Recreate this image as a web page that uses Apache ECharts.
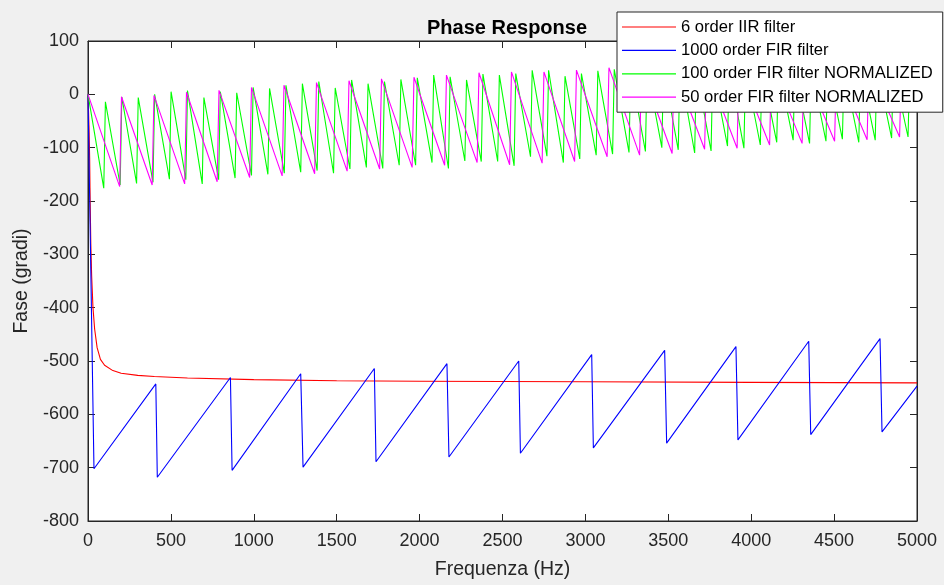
<!DOCTYPE html>
<html>
<head>
<meta charset="utf-8">
<script src="https://cdn.jsdelivr.net/npm/echarts@6/dist/echarts.min.js"></script>
<style>
html,body{margin:0;padding:0;background:#f0f0f0;}
#chart{width:944px;height:585px;}
</style>
</head>
<body>
<div id="chart"></div>
<script>
// ---- data ----
const xTicks = [0,500,1000,1500,2000,2500,3000,3500,4000,4500,5000];
const yTicks = [-800,-700,-600,-500,-400,-300,-200,-100,0,100];

// 6 order IIR filter (Hz, degrees)
const iirHz  = [0,6,10,13,17,22,30,40,55,75,100,150,200,300,400,600,1000,1500,2000,3000,4000,5000];
const iirDeg = [0,-60,-120,-200,-280,-340,-400,-440,-475,-497,-508,-518,-523,-527,-529,-532,-535,-537,-538,-539,-540,-541];

// 1000 order FIR filter (Hz, degrees) - sawtooth vertices
const fir1000Hz  = [0,36,409,418,859,869,1283,1297,1727,1737,2165,2177,2598,2608,3038,3048,3478,3490,3908,3920,4347,4359,4777,4789,5000];
const fir1000Deg = [0,-702,-543,-718,-531,-705,-524,-699,-514,-689,-505,-680,-500,-673,-488,-663,-480,-654,-473,-648,-463,-638,-458,-633,-547];

// 100 order FIR filter NORMALIZED
const fir100TroughHz  = [95,194,293,392,491,590,689,788,887,986,1085,1184,1283,1382,1481,1580,1679,1778,1877,1976,2075,2174,2273,2372,2471,2570,2669,2768,2867,2966,3065,3164,3263,3362,3461,3560,3659,3758,3857,3956,4055,4154,4253,4352,4451,4550,4649,4748,4847,4946];
const fir100TroughDeg = [-176,-170,-167,-165,-159,-160,-168,-160,-157,-152,-150,-148,-146,-143,-148,-140,-137,-139,-133,-133,-128,-139,-125,-126,-126,-134,-117,-116,-128,-121,-114,-112,-109,-107,-100,-104,-110,-106,-97,-101,-95,-90,-86,-92,-88,-84,-90,-86,-82,-80];
const fir100PeakHz    = [105,204,303,402,501,600,699,798,897,996,1095,1194,1293,1392,1491,1590,1689,1788,1887,1986,2085,2184,2283,2382,2481,2580,2679,2778,2877,2976,3075,3174,3273,3372,3471,3570,3669,3768,3867,3966,4065,4164,4263,4362,4461,4560,4659,4758,4857,4956];
const fir100PeakDeg   = [-14,-5,-6,0,5,7,-6,5,3,13,11,17,20,24,12,27,20,24,28,31,36,33,27,38,36,39,45,45,34,39,44,47,46,48,47,49,44,48,50,47,49,51,46,50,52,48,50,52,49,51];
const fir100StartDeg = 0;
const fir100EndDeg = -15;

// 50 order FIR filter NORMALIZED
const fir50TroughHz  = [191,387,583,779,975,1171,1367,1563,1759,1955,2151,2347,2543,2739,2935,3131,3327,3523,3719,3915,4111,4307,4503,4699,4895];
const fir50TroughDeg = [-173,-170,-168,-164,-156,-153,-149,-144,-140,-137,-133,-128,-132,-129,-126,-117,-114,-111,-103,-101,-95,-92,-88,-85,-80];
const fir50PeakHz    = [202,398,594,790,986,1182,1378,1574,1770,1966,2162,2358,2554,2750,2946,3142,3338,3534,3730,3926,4122,4318,4514,4710,4906];
const fir50PeakDeg   = [-4.5,-2,4,7.5,13,17,22,25.5,29,32,36,40.5,42,42,45.5,50,48,49,50,50,51,51,52,52,52];
const fir50StartDeg = 0;
const fir50EndDeg = -15;

const seriesNames = ['6 order IIR filter','1000 order FIR filter','100 order FIR filter NORMALIZED','50 order FIR filter NORMALIZED'];
const seriesColors = ['#ff0000','#0000ff','#00ff00','#ff00ff'];

// ---- build point lists ----
function pairs(xs, ys){ return xs.map((x,i)=>[x, ys[i]]); }
function saw(startDeg, tHz, tDeg, pHz, pDeg, endDeg){
  const pts = [[0, startDeg]];
  for (let i=0;i<tHz.length;i++){ pts.push([tHz[i], tDeg[i]]); pts.push([pHz[i], pDeg[i]]); }
  pts.push([5000, endDeg]);
  return pts;
}
const dataSets = [
  pairs(iirHz, iirDeg),
  pairs(fir1000Hz, fir1000Deg),
  saw(fir100StartDeg, fir100TroughHz, fir100TroughDeg, fir100PeakHz, fir100PeakDeg, fir100EndDeg),
  saw(fir50StartDeg, fir50TroughHz, fir50TroughDeg, fir50PeakHz, fir50PeakDeg, fir50EndDeg)
];

const FONT = '"Liberation Sans", Arial, Helvetica, sans-serif';
const AX = '#262626';
const plain = v => String(v);

const chart = echarts.init(document.getElementById('chart'), null, {renderer:'canvas'});
const tickCommon = {show:true, inside:true, length:7, lineStyle:{color:AX, width:1}};
chart.setOption({
  backgroundColor:'#f0f0f0',
  animation:false,
  title:{
    text:'Phase Response', left:502, top:13, textAlign:'center',
    textStyle:{fontFamily:FONT, fontSize:20, fontWeight:'bold', color:'#000'}
  },
  legend:{
    orient:'vertical', left:617, top:12, z:20, zlevel:0,
    padding:[5,10,5,5],
    icon:'rect',
    itemWidth:54, itemHeight:1.2, itemGap:3.4, itemTextGap:7,
    backgroundColor:'#ffffff', borderColor:AX, borderWidth:1, borderRadius:0,
    textStyle:{fontFamily:FONT, fontSize:16.6, color:'#000', lineHeight:20},
    data:seriesNames
  },
  grid:{left:88, right:27, top:41, bottom:64, show:true, backgroundColor:'#ffffff', borderColor:AX, borderWidth:1, containLabel:false},
  xAxis:[{
    type:'value', min:0, max:5000, interval:500,
    name:'Frequenza (Hz)', nameLocation:'middle', nameGap:39,
    nameTextStyle:{fontFamily:FONT, fontSize:19.5, color:AX},
    axisLine:{show:true, onZero:false, lineStyle:{color:AX}},
    axisTick:tickCommon,
    axisLabel:{fontFamily:FONT, fontSize:18, color:AX, margin:11, formatter:plain},
    splitLine:{show:false}
  },{
    type:'value', min:0, max:5000, interval:500, position:'top',
    axisLine:{show:true, onZero:false, lineStyle:{color:AX}},
    axisTick:tickCommon, axisLabel:{show:false}, splitLine:{show:false}
  }],
  yAxis:[{
    type:'value', min:-800, max:100, interval:100,
    name:'Fase (gradi)', nameLocation:'middle', nameGap:38, nameRotate:90,
    nameTextStyle:{fontFamily:FONT, fontSize:19.5, color:AX},
    axisLine:{show:true, onZero:false, lineStyle:{color:AX}},
    axisTick:tickCommon,
    axisLabel:{fontFamily:FONT, fontSize:18, color:AX, margin:9, formatter:plain},
    splitLine:{show:false}
  },{
    type:'value', min:-800, max:100, interval:100, position:'right',
    axisLine:{show:true, onZero:false, lineStyle:{color:AX}},
    axisTick:tickCommon, axisLabel:{show:false}, splitLine:{show:false}
  }],
  series: seriesNames.map((n,i)=>({
    name:n, type:'line', data:dataSets[i], xAxisIndex:0, yAxisIndex:0,
    symbol:'none', showSymbol:false, smooth:false,
    lineStyle:{color:seriesColors[i], width:1.1},
    itemStyle:{color:seriesColors[i]},
    z:2
  }))
});
</script>
</body>
</html>
